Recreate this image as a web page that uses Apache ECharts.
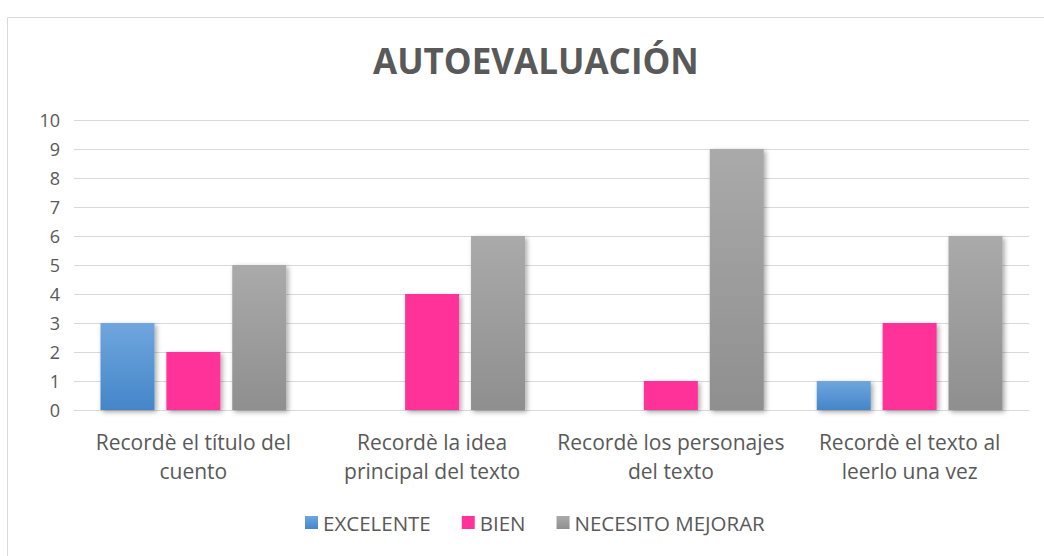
<!DOCTYPE html>
<html>
<head>
<meta charset="utf-8">
<script src="https://cdn.jsdelivr.net/npm/echarts@6/dist/echarts.min.js"></script>
<style>
  html, body { margin: 0; padding: 0; background: #fff; }
  #chart { width: 1044px; height: 556px; }
</style>
</head>
<body>
<div id="chart"></div>
<script>
var categories = ['Recordè el título del\ncuento', 'Recordè la idea\nprincipal del texto', 'Recordè los personajes\ndel texto', 'Recordè el texto al\nleerlo una vez'];
var excelente = [3, 0, 0, 1];
var bien = [2, 4, 1, 3];
var necesito = [5, 6, 9, 6];
var yTicks = { min: 0, max: 10, interval: 1 };

var font = "'Open Sans', 'Noto Sans', sans-serif";
var text = '#595959';

function grad(top, bottom) {
  return new echarts.graphic.LinearGradient(0, 0, 0, 1, [
    { offset: 0, color: top }, { offset: 1, color: bottom }
  ]);
}
var shadow = { shadowBlur: 5, shadowColor: 'rgba(0,0,0,0.35)', shadowOffsetX: 2, shadowOffsetY: 2 };

var chart = echarts.init(document.getElementById('chart'), null, { renderer: 'svg' });
chart.setOption({
  animation: false,
  graphic: [{
    type: 'rect', left: 5, top: 15, shape: { width: 1060, height: 560 },
    style: { fill: 'none', stroke: '#d9d9d9', lineWidth: 1 }
  }],
  title: {
    text: 'AUTOEVALUACIÓN', left: 368, top: 38,
    textStyle: { fontFamily: font, fontSize: 35, fontWeight: 'bold', color: text }
  },
  legend: {
    top: 507, left: 300, itemWidth: 13, itemHeight: 13, itemGap: 31,
    icon: 'rect',
    textStyle: { fontFamily: font, fontSize: 20.5, color: text },
    data: ['EXCELENTE', 'BIEN', 'NECESITO MEJORAR']
  },
  grid: { left: 74, right: 15, top: 120, bottom: 146, containLabel: false },
  xAxis: {
    type: 'category',
    data: categories,
    axisLine: { lineStyle: { color: '#d9d9d9', width: 1 } },
    axisTick: { show: false },
    axisLabel: { fontFamily: font, fontSize: 21, color: text, lineHeight: 29, margin: 17, interval: 0 }
  },
  yAxis: {
    type: 'value',
    min: yTicks.min, max: yTicks.max, interval: yTicks.interval,
    axisLine: { show: false },
    axisTick: { show: false },
    axisLabel: { fontFamily: font, fontSize: 18, color: text, margin: 14 },
    splitLine: { lineStyle: { color: '#d9d9d9', width: 1 } }
  },
  series: [
    {
      name: 'EXCELENTE', type: 'bar', data: excelente, barWidth: 54, barGap: '22%',
      itemStyle: Object.assign({ color: grad('#6fa6de', '#4486c9') }, shadow)
    },
    {
      name: 'BIEN', type: 'bar', data: bien, barWidth: 54,
      itemStyle: Object.assign({ color: '#ff3399' }, shadow)
    },
    {
      name: 'NECESITO MEJORAR', type: 'bar', data: necesito, barWidth: 54,
      itemStyle: Object.assign({ color: grad('#aaaaaa', '#8f8f8f') }, shadow)
    }
  ]
});
</script>
</body>
</html>
